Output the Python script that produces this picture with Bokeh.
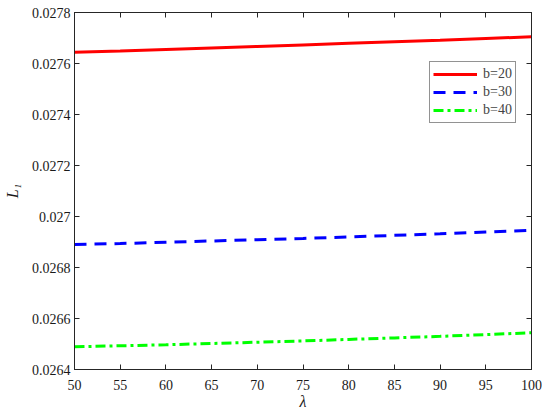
from bokeh.plotting import figure
from bokeh.models import (LinearAxis, FixedTicker, CustomJSTickFormatter, Range1d,
                          Legend, LegendItem)
from bokeh.embed import file_html
from bokeh.resources import INLINE

lam = [50, 55, 60, 65, 70, 75, 80, 85, 90, 95, 100]
b20 = [0.027644, 0.027649, 0.027655, 0.027661, 0.027667, 0.027673,
       0.027679, 0.027685, 0.027691, 0.027698, 0.027705]
b30 = [0.026890, 0.026894, 0.026899, 0.026904, 0.026909, 0.026914,
       0.026920, 0.026926, 0.026932, 0.026939, 0.026946]
b40 = [0.026489, 0.026493, 0.026497, 0.026502, 0.026507, 0.026512,
       0.026518, 0.026524, 0.026530, 0.026537, 0.026544]
xticks = [50, 55, 60, 65, 70, 75, 80, 85, 90, 95, 100]
yticks = [0.0264, 0.0266, 0.0268, 0.0270, 0.0272, 0.0274, 0.0276, 0.0278]

FONT = "serif"
AX = "#262626"

p = figure(width=542, height=412, output_backend="svg", toolbar_location=None,
           x_range=Range1d(50, 100), y_range=Range1d(0.0264, 0.0278),
           min_border_left=73, min_border_right=11, min_border_top=12,
           min_border_bottom=41, x_axis_location=None, y_axis_location=None)
p.grid.visible = False
p.outline_line_color = AX
p.background_fill_color = "white"
p.border_fill_color = "white"

fmt = CustomJSTickFormatter(code="return parseFloat(tick.toFixed(4)).toString();")
blank = CustomJSTickFormatter(code="return '';")

def style(ax):
    ax.axis_line_color = AX
    ax.major_tick_line_color = AX
    ax.major_tick_in = 5
    ax.major_tick_out = 0
    ax.minor_tick_line_color = None
    ax.major_label_text_font = FONT
    ax.major_label_text_font_size = "14px"
    ax.major_label_text_color = "#1a1a1a"
    ax.axis_label_text_font = FONT
    ax.axis_label_text_font_style = "italic"
    ax.axis_label_text_font_size = "16px"
    ax.axis_label_text_color = "#1a1a1a"

xb = LinearAxis(ticker=FixedTicker(ticks=xticks), axis_label="λ")
style(xb)
xb.major_label_standoff = 10
xb.axis_label_standoff = 0
p.add_layout(xb, "below")

yl = LinearAxis(ticker=FixedTicker(ticks=yticks), formatter=fmt, axis_label="L₁")
style(yl)
yl.major_label_standoff = 4
yl.axis_label_standoff = 8
p.add_layout(yl, "left")

xt = LinearAxis(ticker=FixedTicker(ticks=xticks), formatter=blank)
style(xt)
xt.major_label_standoff = 0
p.add_layout(xt, "above")
yr = LinearAxis(ticker=FixedTicker(ticks=yticks), formatter=blank)
style(yr)
yr.major_label_standoff = 0
p.add_layout(yr, "right")

r1 = p.line(lam, b20, line_color="#ff0000", line_width=3)
r2 = p.line(lam, b30, line_color="#0000ff", line_width=3, line_dash="12 8")
r3 = p.line(lam, b40, line_color="#00ff00", line_width=3, line_dash="10 4 3 4")

legend = Legend(items=[LegendItem(label="b=20", renderers=[r1]),
                       LegendItem(label="b=30", renderers=[r2]),
                       LegendItem(label="b=40", renderers=[r3])],
                location=(355, 246), glyph_width=44, glyph_height=18,
                label_height=18, spacing=0, padding=3, margin=0,
                label_standoff=6, label_text_font=FONT,
                label_text_font_size="14px", border_line_color=AX,
                border_line_width=1, background_fill_alpha=1)
p.add_layout(legend, "center")

open("out.html", "w").write(file_html(p, INLINE))
